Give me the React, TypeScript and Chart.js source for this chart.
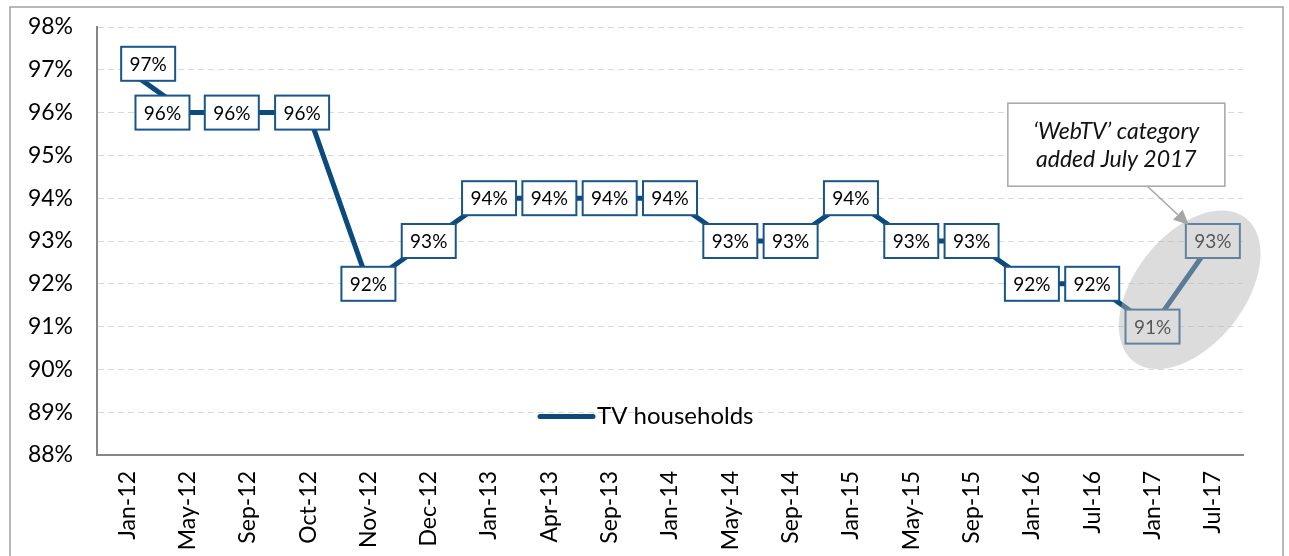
import React, { useEffect, useRef } from "react";
import { Chart, registerables } from "chart.js";

Chart.register(...registerables);

const categories = [
  "Jan-12", "May-12", "Sep-12", "Oct-12", "Nov-12", "Dec-12", "Jan-13", "Apr-13", "Sep-13", "Jan-14",
  "May-14", "Sep-14", "Jan-15", "May-15", "Sep-15", "Jan-16", "Jul-16", "Jan-17", "Jul-17",
];
const tvHouseholds = [97, 96, 96, 96, 92, 93, 94, 94, 94, 94, 93, 93, 94, 93, 93, 92, 92, 91, 93];
const seriesName = "TV households";
const yMin = 88;
const yMax = 98;
const calloutLines = ["\u2018WebTV\u2019 category", "added July 2017"];
// small nudges of the first data labels, as in the original
const labelNudgeX = [21, -25, -16, -6];
const labelNudgeY = [-6, 0, 0, 0];

const LINE_COLOR = "#0b4a7d";
const BOX_COLOR = "#1a5589";
const FONT = "Lato";

const overlayPlugin = {
  id: "overlay",
  afterDatasetsDraw(chart: any) {
    const ctx = chart.ctx as CanvasRenderingContext2D;
    const meta = chart.getDatasetMeta(0);
    const xs = chart.scales.x;
    const ys = chart.scales.y;
    const area = chart.chartArea;
    const n = categories.length;
    const bw = 54;
    const bh = 34;

    ctx.save();
    // data labels
    ctx.font = `19px ${FONT}`;
    ctx.textAlign = "center";
    ctx.textBaseline = "middle";
    meta.data.forEach((pt: any, i: number) => {
      const cx = pt.x + (labelNudgeX[i] || 0);
      const cy = pt.y + (labelNudgeY[i] || 0);
      ctx.fillStyle = "#ffffff";
      ctx.fillRect(cx - bw / 2, cy - bh / 2, bw, bh);
      ctx.lineWidth = 2;
      ctx.strokeStyle = BOX_COLOR;
      ctx.strokeRect(cx - bw / 2, cy - bh / 2, bw, bh);
      ctx.fillStyle = "#000000";
      ctx.fillText(`${tvHouseholds[i]}%`, cx, cy + 1);
    });

    // highlight ellipse (semi-transparent overlay)
    const ex = (meta.data[n - 2].x + meta.data[n - 1].x) / 2 + 7;
    const ey = ys.getPixelForValue((tvHouseholds[n - 2] + tvHouseholds[n - 1]) / 2) + 6;
    ctx.beginPath();
    ctx.ellipse(ex, ey, 91, 55, (-52 * Math.PI) / 180, 0, Math.PI * 2);
    ctx.fillStyle = "rgba(180,180,180,0.47)";
    ctx.fill();

    // callout box
    const cbx = xs.getPixelForValue(16.4);
    const cby = ys.getPixelForValue(95.25);
    const cw = 217;
    const ch = 83;
    ctx.fillStyle = "#ffffff";
    ctx.fillRect(cbx - cw / 2, cby - ch / 2, cw, ch);
    ctx.lineWidth = 1.5;
    ctx.strokeStyle = "#a6a6a6";
    ctx.strokeRect(cbx - cw / 2, cby - ch / 2, cw, ch);
    ctx.fillStyle = "#111111";
    ctx.font = `italic 23px ${FONT}`;
    ctx.fillText(calloutLines[0], cbx, cby - 13);
    ctx.fillText(calloutLines[1], cbx, cby + 15);

    // arrow
    const last = meta.data[n - 1];
    const sx = cbx + 31;
    const sy = cby + ch / 2;
    const tx = last.x - bw / 2 + 3;
    const ty = last.y - bh / 2 + 1;
    const ang = Math.atan2(ty - sy, tx - sx);
    const hl = 15;
    const hw = 7;
    const bx = tx - hl * Math.cos(ang);
    const by = ty - hl * Math.sin(ang);
    ctx.beginPath();
    ctx.moveTo(sx, sy);
    ctx.lineTo(bx, by);
    ctx.strokeStyle = "#a6a6a6";
    ctx.lineWidth = 1.5;
    ctx.stroke();
    ctx.beginPath();
    ctx.moveTo(tx, ty);
    ctx.lineTo(bx + hw * Math.sin(ang), by - hw * Math.cos(ang));
    ctx.lineTo(bx - hw * Math.sin(ang), by + hw * Math.cos(ang));
    ctx.closePath();
    ctx.fillStyle = "#a6a6a6";
    ctx.fill();

    // legend inside plot
    const lx = area.left + 443;
    const ly = ys.getPixelForValue(88.9);
    ctx.beginPath();
    ctx.moveTo(lx, ly);
    ctx.lineTo(lx + 53, ly);
    ctx.strokeStyle = LINE_COLOR;
    ctx.lineWidth = 5;
    ctx.lineCap = "round";
    ctx.stroke();
    ctx.fillStyle = "#000000";
    ctx.font = `24px ${FONT}`;
    ctx.textAlign = "left";
    ctx.fillText(seriesName, lx + 57, ly);

    // outer frame
    ctx.lineWidth = 1.5;
    ctx.strokeStyle = "#a0a0a0";
    ctx.strokeRect(10, 7, 1273, 600);
    ctx.restore();
  },
};

export default function App() {
  const ref = useRef<HTMLCanvasElement | null>(null);

  useEffect(() => {
    if (!ref.current) return;
    Chart.defaults.font.family = FONT;
    const chart = new Chart(ref.current, {
      type: "line",
      data: {
        labels: categories,
        datasets: [
          {
            label: seriesName,
            data: tvHouseholds,
            borderColor: LINE_COLOR,
            backgroundColor: LINE_COLOR,
            borderWidth: 5,
            pointRadius: 0,
            tension: 0,
            borderJoinStyle: "round",
          },
        ],
      },
      options: {
        responsive: false,
        devicePixelRatio: 1,
        animation: false,
        layout: { padding: { left: 0, top: 27, right: 46, bottom: 0 } },
        plugins: {
          legend: { display: false },
          tooltip: { enabled: false },
        },
        scales: {
          x: {
            offset: true,
            grid: { display: false, drawTicks: false },
            border: { display: true, color: "#868686", width: 2 },
            ticks: {
              autoSkip: false,
              minRotation: 90,
              maxRotation: 90,
              padding: 16,
              color: "#000000",
              font: { size: 23, family: FONT },
            },
            afterFit: (s: any) => {
              s.height = 101;
            },
          },
          y: {
            min: yMin,
            max: yMax,
            grid: { color: "#d9d9d9", lineWidth: 1, drawTicks: false },
            border: { display: true, color: "#868686", width: 2, dash: [6, 4] },
            ticks: {
              stepSize: 1,
              padding: 24,
              color: "#000000",
              font: { size: 23, family: FONT },
              callback: (v: any) => `${v}%`,
            },
            afterFit: (s: any) => {
              s.width = 97;
              s.paddingTop = 0;
              s.paddingBottom = 0;
            },
          },
        },
      },
      plugins: [overlayPlugin],
    });
    return () => chart.destroy();
  }, []);

  return (
    <div style={{ position: "absolute", left: 0, top: 0, width: 1289, height: 556, background: "#fff" }}>
      <canvas ref={ref} width={1289} height={556} />
    </div>
  );
}
